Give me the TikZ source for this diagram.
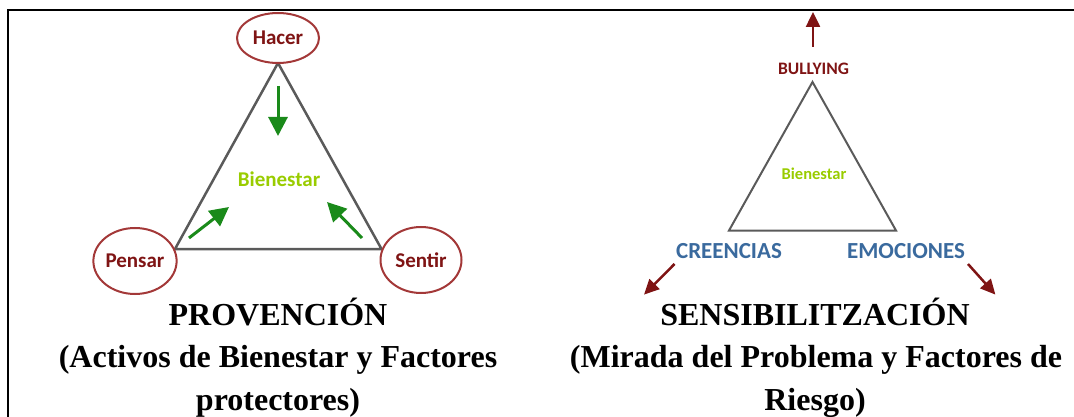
\documentclass[tikz,border=0pt]{standalone}
\usepackage{fontspec}
\setmainfont{Liberation Serif}
\newfontfamily\labelfont{Carlito}
\usetikzlibrary{%
	arrows.meta,%
	shapes.geometric%
}
\definecolor{Wine}{HTML}{7F1414}
\definecolor{Rim}{HTML}{A33838}
\definecolor{Leaf}{HTML}{1A8A1A}
\definecolor{Lime}{HTML}{99CC00}
\definecolor{Steel}{HTML}{3A6A9E}
\definecolor{Edge}{HTML}{5A5A5A}

\tikzset{
	pole/.style={ellipse,draw=Rim,line width=2pt,fill=white,inner sep=0pt,text=Wine,
		font=\labelfont\bfseries\fontsize{21}{21}\selectfont},
	triside/.style={draw=Edge,line width=2.5pt},
	inward/.style={draw=Leaf,line width=3pt,-{Triangle[length=19pt,width=19pt]}},
	outward/.style={draw=Wine,line width=2.5pt,-{Triangle[length=15pt,width=14pt]}},
	factor/.style={text=Steel,font=\labelfont\bfseries\fontsize{23}{23}\selectfont},
	title/.style={anchor=base,inner sep=0pt,font=\bfseries\fontsize{32}{32}\selectfont}
}

\begin{document}
\begin{tikzpicture}[x=1pt,y=-1pt]
\useasboundingbox (0,0) rectangle (1074,417);
% Frame
\draw [line width=2pt] (8,417) -- (8,10) -- (1074,10);
% Left triangle
\coordinate (lt) at (278,63);
\coordinate (ll) at (175,249);
\coordinate (lr) at (381.5,249);
\draw [triside] (lt) -- (ll) -- (lr) -- cycle;
\node [pole,minimum width=82pt,minimum height=50pt] (hacer) at (278,38) {Hacer};
\node [pole,minimum width=82pt,minimum height=66pt] (pensar) at (135,261) {Pensar};
\node [pole,minimum width=81pt,minimum height=66pt] (sentir) at (421,260) {Sentir};
\node [text=Lime,font=\labelfont\bfseries\fontsize{21}{21}\selectfont] (bien) at (279,179) {Bienestar};
% Green arrows
\coordinate (g1) at (278,86);   \coordinate (g1e) at (278,136);
\coordinate (g2) at (189,238);  \coordinate (g2e) at (229,207);
\coordinate (g3) at (362,238);  \coordinate (g3e) at (327,202);
\draw [inward] (g1) -- (g1e);
\draw [inward] (g2) -- (g2e);
\draw [inward] (g3) -- (g3e);
% Right triangle
\coordinate (rt) at (812.5,82);
\coordinate (rl) at (729,230.5);
\coordinate (rr) at (896,230.5);
\draw [triside,line width=2pt] (rt) -- (rl) -- (rr) -- cycle;
\node [text=Wine,font=\labelfont\bfseries\fontsize{17.5}{17.5}\selectfont] (bully) at (813.5,69) {BULLYING};
\node [text=Lime,font=\labelfont\bfseries\fontsize{16.5}{16.5}\selectfont] (bien2) at (814,174) {Bienestar};
\node [factor] (cree) at (729,251) {CREENCIAS};
\node [factor] (emo) at (906,251) {EMOCIONES};
% Red arrows
\coordinate (r1) at (813,47);    \coordinate (r1e) at (813,12);
\coordinate (r2) at (674.5,264); \coordinate (r2e) at (644,294.6);
\coordinate (r3) at (968,264);   \coordinate (r3e) at (995.4,294.6);
\draw [outward] (r1) -- (r1e);
\draw [outward] (r2) -- (r2e);
\draw [outward] (r3) -- (r3e);
% Titles
\node [title] (prov) at (278,325) {PROVENCIÓN};
\node [title] (prov2) at (278,367) {(Activos de Bienestar y Factores};
\node [title] (prov3) at (278,410) {protectores)};
\node [title] (sens) at (815,325) {SENSIBILITZACIÓN};
\node [title] (sens2) at (816,367) {(Mirada del Problema y Factores de};
\node [title] (sens3) at (815,410) {Riesgo)};
\end{tikzpicture}
\end{document}
